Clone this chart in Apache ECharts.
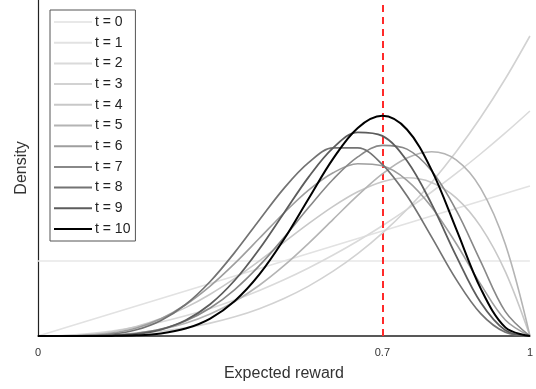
<!DOCTYPE html>
<html>
<head>
<meta charset="utf-8">
<script src="https://cdn.jsdelivr.net/npm/echarts@6/dist/echarts.min.js"></script>
<style>html,body{margin:0;padding:0;background:#fff}#c{width:536px;height:389px}</style>
</head>
<body>
<div id="c"></div>
<script>
const xValues = [0,0.05,0.1,0.15,0.2,0.25,0.3,0.35,0.4,0.45,0.5,0.55,0.6,0.65,0.7,0.75,0.8,0.85,0.9,0.95,1];
const seriesNames = ['t = 0','t = 1','t = 2','t = 3','t = 4','t = 5','t = 6','t = 7','t = 8','t = 9','t = 10'];
const d0 = [1,1,1,1,1,1,1,1,1,1,1,1,1,1,1,1,1,1,1,1,1];
const d1 = [0,0.1,0.2,0.3,0.4,0.5,0.6,0.7,0.8,0.9,1.0,1.1,1.2,1.3,1.4,1.5,1.6,1.7,1.8,1.9,2.0];
const d2 = [0,0.0075,0.03,0.0675,0.12,0.1875,0.27,0.3675,0.48,0.6075,0.75,0.9075,1.08,1.2675,1.47,1.6875,1.92,2.1675,2.43,2.7075,3];
const d3 = [0,0.0005,0.004,0.0135,0.032,0.0625,0.108,0.1715,0.256,0.3645,0.5,0.6655,0.864,1.0985,1.372,1.6875,2.048,2.4565,2.916,3.4295,4];
const d4 = [0,0.0024,0.018,0.0574,0.128,0.2344,0.378,0.5574,0.768,1.0024,1.25,1.4974,1.728,1.9224,2.058,2.1094,2.048,1.8424,1.458,0.8574,0];
const d5 = [0,0.0002,0.0027,0.0129,0.0384,0.0879,0.1701,0.2926,0.4608,0.6766,0.9375,1.2353,1.5552,1.8743,2.1609,2.3730,2.4576,2.3490,1.9683,1.2218,0];
const d6 = [0,0.0006,0.0085,0.0384,0.1075,0.2307,0.4167,0.6657,0.9677,1.3025,1.6406,1.9457,2.1773,2.2960,2.2689,2.0764,1.7203,1.2332,0.6889,0.2138,0];
const d7 = [0,0.00005,0.0014,0.0092,0.0344,0.0923,0.2000,0.3728,0.6193,0.9378,1.3125,1.7122,2.0902,2.3879,2.5412,2.4917,2.2020,1.6772,0.9920,0.3250,0];
const d8 = [0,0.0001,0.0037,0.0235,0.0826,0.2076,0.4201,0.7270,1.1148,1.5473,1.9688,2.3114,2.5082,2.5073,2.2871,1.8688,1.3212,0.7547,0.2976,0.0487,0];
const d9 = [0,0.00001,0.0006,0.0059,0.0275,0.0865,0.2100,0.4241,0.7432,1.1605,1.6406,2.1188,2.5082,2.7162,2.6683,2.3360,1.7616,1.0692,0.4464,0.0772,0];
const d10 = [0,0,0.0001,0.0014,0.0087,0.0340,0.0990,0.2332,0.4671,0.8206,1.2891,1.8313,2.3649,2.7744,2.9351,2.7531,2.2146,1.4282,0.6314,0.1152,0];
const trueReward = 0.7;
const xTickLabels = [0, 0.7, 1];

const allData = [d0,d1,d2,d3,d4,d5,d6,d7,d8,d9,d10];
const colors = ['#e8e8e8','#e2e2e2','#dadada','#d2d2d2','#c8c8c8','#b4b4b4','#9e9e9e','#888888','#737373','#5c5c5c','#000000'];
const widths = [1.6,1.6,1.6,1.6,1.6,1.6,1.6,1.6,1.7,1.8,2];

const series = allData.map((arr, i) => ({
  name: seriesNames[i],
  type: 'line',
  data: arr.map((v, j) => [xValues[j], v]),
  smooth: 0.35,
  symbol: 'none',
  lineStyle: {color: colors[i], width: widths[i]},
  itemStyle: {color: colors[i]},
  z: 2 + i,
  silent: true
}));
series.push({
  name: 'truth',
  type: 'line',
  data: [],
  symbol: 'none',
  z: 20,
  markLine: {
    silent: true,
    symbol: ['none','none'],
    label: {show: false},
    lineStyle: {color: '#ff2a2a', width: 2, type: [7, 5]},
    data: [{xAxis: trueReward}]
  }
});

const chart = echarts.init(document.getElementById('c'));
chart.setOption({
  animation: false,
  backgroundColor: '#fff',
  grid: {left: 38, right: 6, top: 0, bottom: 53, containLabel: false},
  xAxis: {
    type: 'value', min: 0, max: 1,
    name: 'Expected reward', nameLocation: 'middle', nameGap: 30,
    nameTextStyle: {fontFamily: 'Liberation Sans, Arial', fontSize: 16, color: '#333'},
    axisLine: {show: true, lineStyle: {color: '#222', width: 1.5}},
    axisTick: {show: false},
    splitLine: {show: false},
    axisLabel: {customValues: xTickLabels, fontFamily: 'Liberation Sans, Arial', fontSize: 11, color: '#333', margin: 11,
      formatter: v => String(v)}
  },
  yAxis: {
    type: 'value', min: 0, max: 4.48,
    name: 'Density', nameLocation: 'middle', nameGap: 8,
    nameTextStyle: {fontFamily: 'Liberation Sans, Arial', fontSize: 16, color: '#333'},
    axisLine: {show: true, lineStyle: {color: '#222', width: 1.2}},
    axisTick: {show: false},
    axisLabel: {show: false},
    splitLine: {show: false}
  },
  legend: {
    data: seriesNames,
    orient: 'vertical',
    left: 50, top: 10,
    padding: [5, 5, 5, 3],
    itemWidth: 38, itemHeight: 14, itemGap: 6.7,
    backgroundColor: '#fff',
    borderColor: '#555', borderWidth: 1,
    itemStyle: {opacity: 0},
    textStyle: {fontFamily: 'Liberation Sans, Arial', fontSize: 14, color: '#222', padding: [0,0,0,-2]},
    selectedMode: false
  },
  series: series
});
</script>
</body>
</html>
